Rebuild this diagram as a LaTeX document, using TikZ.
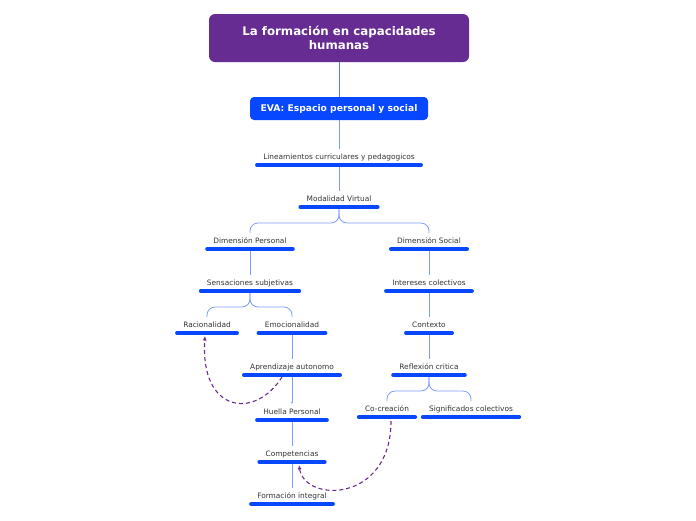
\documentclass[tikz,border=0pt]{standalone}
\usepackage{fontspec}
\setmainfont{DejaVu Sans}
\usetikzlibrary{arrows.meta,calc}
\definecolor{mapPurple}{HTML}{662C91}
\definecolor{mapBlue}{HTML}{0647FF}
\definecolor{linkBlue}{HTML}{7D9CFF}
\definecolor{relPurple}{HTML}{6A2A92}
\definecolor{topicText}{HTML}{333333}
\tikzset{
  topic/.style={font=\fontsize{7.4}{8}\selectfont, text=topicText, inner xsep=6pt, inner ysep=0pt,
    text height=5pt, text depth=5.5pt, anchor=south},
  bar/.style={draw=mapBlue, line width=4pt, line cap=round},
  link/.style={draw=linkBlue, line width=0.8pt, shorten >=5pt},
  rel/.style={draw=relPurple, line width=1.1pt, dash pattern=on 4pt off 3pt, -{Latex[length=4.5pt,width=4pt]}}
}
\begin{document}
\begin{tikzpicture}[x=1pt,y=-1pt]
  \useasboundingbox (0,0) rectangle (696,520);
  \node[fill=mapPurple, rounded corners=6pt, minimum width=260pt, minimum height=48pt, text=white,
    font=\fontsize{11.8}{14}\selectfont\bfseries, align=center] (titulo) at (339,38) {La formación en capacidades\\humanas};
  \node[fill=mapBlue, rounded corners=4pt, minimum width=178pt, minimum height=23pt, text=white,
    font=\fontsize{9.2}{10}\selectfont\bfseries] (eva) at (339,108.5) {EVA: Espacio personal y social};
  \node[topic] (li) at (339,165) {Lineamientos curriculares y pedagogicos};
  \node[topic] (mv) at (339,207) {Modalidad Virtual};
  \node[topic] (dp) at (250,249) {Dimensión Personal};
  \node[topic] (ds) at (429,249) {Dimensión Social};
  \node[topic] (ss) at (250,291) {Sensaciones subjetivas};
  \node[topic] (ra) at (207,333) {Racionalidad};
  \node[topic] (em) at (292,333) {Emocionalidad};
  \node[topic] (ap) at (292,375) {Aprendizaje autonomo};
  \node[topic] (hp) at (292,420) {Huella Personal};
  \node[topic] (co) at (292,462) {Competencias};
  \node[topic] (fi) at (292,504) {Formación integral};
  \node[topic] (ic) at (429,291) {Intereses colectivos};
  \node[topic] (cx) at (429,333) {Contexto};
  \node[topic] (rc) at (429,375) {Reflexión critica};
  \node[topic] (cc) at (387,417) {Co-creación};
  \node[topic] (sc) at (471,417) {Significados colectivos};

  \draw[link, draw=mapBlue!70, shorten >=0pt] (titulo) -- (eva);
  \draw[link] (eva) -- (li.north);
  \draw[link] (li.south) -- (mv.north);
  \draw[link, rounded corners=8pt] (mv.south) -- ++(0,16) -| (dp.north);
  \draw[link, rounded corners=8pt] (mv.south) -- ++(0,16) -| (ds.north);
  \draw[link] (dp.south) -- (ss.north);
  \draw[link, rounded corners=8pt] (ss.south) -- ++(0,16) -| (ra.north);
  \draw[link, rounded corners=8pt] (ss.south) -- ++(0,16) -| (em.north);
  \draw[link] (em.south) -- (ap.north);
  \draw[link, -{Latex[length=2pt,width=2pt]}] (ap.south) -- (hp.north);
  \draw[link] (hp.south) -- (co.north);
  \draw[link] (co.south) -- (fi.north);
  \draw[link] (ds.south) -- (ic.north);
  \draw[link] (ic.south) -- (cx.north);
  \draw[link] (cx.south) -- (rc.north);
  \draw[link, rounded corners=8pt] (rc.south) -- ++(0,16) -| (cc.north);
  \draw[link, rounded corners=8pt] (rc.south) -- ++(0,16) -| (sc.north);

  \foreach \n in {li,mv,dp,ds,ss,ra,em,ap,hp,co,fi,ic,cx,rc,cc,sc}
    \draw[bar] (\n.south west) -- (\n.south east);

  \draw[rel] ($(ap.south)+(-10,2)$) .. controls +(-27,43) and +(-5,77) .. ($(ra.south)+(-2,3)$);
  \draw[rel] ($(cc.south)+(4,4)$) .. controls +(0,82) and +(6,38) .. ($(co.south)+(7,3)$);
\end{tikzpicture}
\end{document}
